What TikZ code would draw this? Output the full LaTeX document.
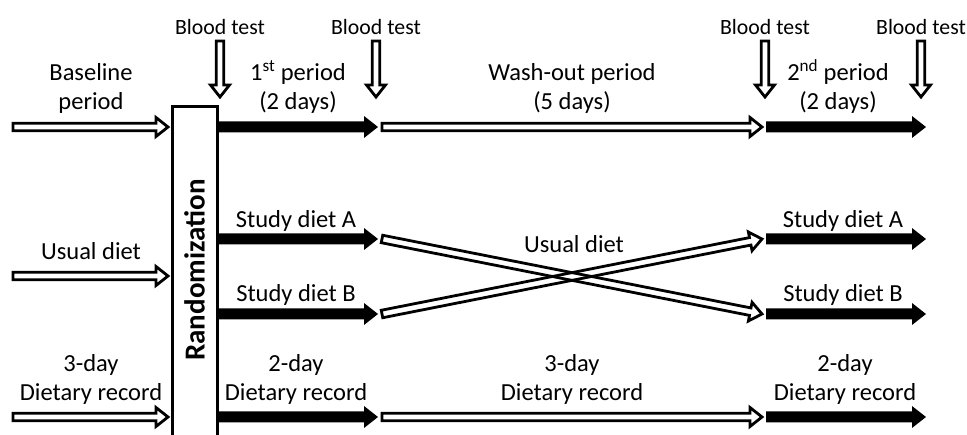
\documentclass[tikz,border=0pt]{standalone}
\usepackage{fontspec}
\setmainfont{Carlito}
\usetikzlibrary{calc}

% open (outlined) and solid timeline arrows between two named points
\newcommand{\openarrow}[2]{%
  \coordinate (hb) at ($(#2)!12pt!(#1)$);
  \draw[openline] ($(#1)!3.8pt!90:(#2)$) -- ($(hb)!3.8pt!90:(#2)$) -- ($(hb)!9.5pt!90:(#2)$)
    -- (#2) -- ($(hb)!9.5pt!-90:(#2)$) -- ($(hb)!3.8pt!-90:(#2)$) -- ($(#1)!3.8pt!-90:(#2)$) -- cycle;}
\newcommand{\solidarrow}[2]{%
  \coordinate (hb) at ($(#2)!14pt!(#1)$);
  \fill ($(#1)!5.5pt!90:(#2)$) -- ($(hb)!5.5pt!90:(#2)$) -- ($(hb)!11pt!90:(#2)$)
    -- (#2) -- ($(hb)!11pt!-90:(#2)$) -- ($(hb)!5.5pt!-90:(#2)$) -- ($(#1)!5.5pt!-90:(#2)$) -- cycle;}

\tikzset{
  lbl/.style={font=\fontsize{24.5}{29}\selectfont, align=center, inner sep=0pt, anchor=base},
  bloodlbl/.style={font=\fontsize{21.8}{26}\selectfont, inner sep=0pt, anchor=base},
  openline/.style={draw=black, line width=2.8pt, line join=miter},
  boxline/.style={line width=3pt},
}

\begin{document}
\begin{tikzpicture}[x=1pt, y=-1pt]

\useasboundingbox (0,0) rectangle (967,435);

% timeline points
\foreach \r/\y in {per/127, sa/239, ud/276, sb/314, rec/417} {
  \foreach \c/\x in {a/13, b/168, c/218.5, d/378, e/382, f/762, g/766, h/926} {
    \coordinate (\r-\c) at (\x,\y);
  }
}

% randomization box
\draw[boxline] (172,436) -- (172,107) -- (217,107) -- (217,436);
\node[font=\fontsize{29}{34}\selectfont\bfseries, rotate=90, inner sep=0pt] (rand) at (194.5,270) {Randomization};

% periods
\openarrow{per-a}{per-b}
\solidarrow{per-c}{per-d}
\openarrow{per-e}{per-f}
\solidarrow{per-g}{per-h}

% diets
\openarrow{ud-a}{ud-b}
\solidarrow{sa-c}{sa-d}
\solidarrow{sb-c}{sb-d}
\openarrow{sa-e}{sb-f}
\openarrow{sb-e}{sa-f}
\solidarrow{sa-g}{sa-h}
\solidarrow{sb-g}{sb-h}

% dietary records
\openarrow{rec-a}{rec-b}
\solidarrow{rec-c}{rec-d}
\openarrow{rec-e}{rec-f}
\solidarrow{rec-g}{rec-h}

% blood tests
\foreach \n/\x in {1/220, 2/376, 3/765, 4/921} {
  \coordinate (bt\n) at (\x,41);
  \coordinate (bt\n-tip) at (\x,97);
  \openarrow{bt\n}{bt\n-tip}
  \node[bloodlbl] (btl\n) at (\x,35) {Blood test};
}

\node[lbl] (basel) at (91,110) {Baseline\\period};
\node[lbl] (per1) at (298,110) {1\textsuperscript{st} period\\(2 days)};
\node[lbl] (wash) at (572,110) {Wash-out period\\(5 days)};
\node[lbl] (per2) at (838,110) {2\textsuperscript{nd} period\\(2 days)};

\node[lbl] (usual1) at (91,260) {Usual diet};
\node[lbl] (diA1) at (296,228) {Study diet A};
\node[lbl] (diB1) at (296,302) {Study diet B};
\node[lbl] (usual2) at (574,253) {Usual diet};
\node[lbl] (diA2) at (843,228) {Study diet A};
\node[lbl] (diB2) at (843,302) {Study diet B};

\node[lbl] (rec0) at (91,401) {3-day\\Dietary record};
\node[lbl] (rec1) at (296,401) {2-day\\Dietary record};
\node[lbl] (rec2) at (572,401) {3-day\\Dietary record};
\node[lbl] (rec3) at (845,401) {2-day\\Dietary record};

\end{tikzpicture}
\end{document}
